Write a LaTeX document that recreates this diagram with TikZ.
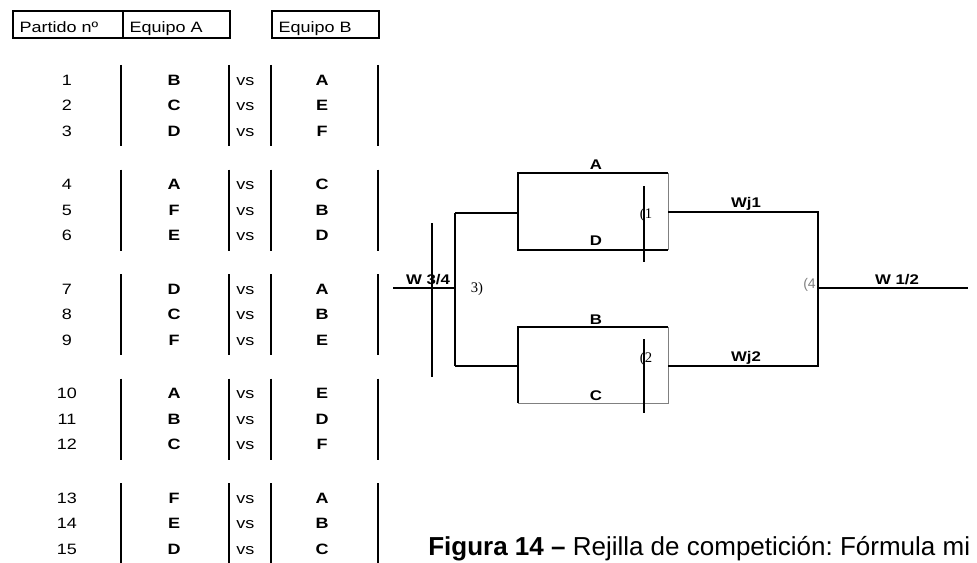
\documentclass[tikz,border=0pt]{standalone}
\usepackage{fontspec}
\setmainfont{Liberation Sans}
\newfontfamily\tabfont[FakeStretch=1.2]{Liberation Sans}
\newfontfamily\serfont{Liberation Serif}
\frenchspacing

\begin{document}
\begin{tikzpicture}[x=0.75pt,y=-0.75pt,
    cell/.style={font=\tabfont\fontsize{11.25}{13}\selectfont,inner sep=0pt,text height=8pt,text depth=0pt},
    team/.style={cell,font=\tabfont\bfseries\fontsize{11.25}{13}\selectfont},
    hdr/.style={draw,line width=1.5pt,anchor=north west,minimum height=20.25pt,inner xsep=5pt,inner ysep=2pt,align=left,
      text height=12pt,text depth=0pt,font=\tabfont\fontsize{11.25}{13}\selectfont},
    bar/.style={line width=2.2pt},
    wire/.style={line width=1.5pt},
    thin/.style={line width=0.75pt,gray},
    lab/.style={font=\tabfont\bfseries\fontsize{10.5}{12}\selectfont,inner sep=0pt,text height=7.5pt,text depth=0pt},
    tag/.style={font=\serfont\fontsize{11}{12}\selectfont,inner sep=0pt,text height=7.5pt,text depth=0pt}]
     \useasboundingbox (0,0) rectangle (977,563);

     \node[hdr,text width=72.5pt] (part) at (12,10) {Partido nº};
     \node[hdr,text width=70.25pt] (eqA) at (122,10) {Equipo A};
     \node[hdr,text width=70.25pt] (eqB) at (271,10) {Equipo B};

     \foreach \a/\b [count=\i] in {B/A,C/E,D/F,A/C,F/B,E/D,D/A,C/B,F/E,A/E,B/D,C/F,F/A,E/B,D/C} {
      \pgfmathsetmacro\yy{80+104.5*int((\i-1)/3)+25.5*mod(\i-1,3)}
      \node[cell] (num\i) at (67,\yy) {\i};
      \node[team] (ta\i) at (174,\yy) {\a};
      \node[cell,anchor=west] (vs\i) at (236,\yy) {vs};
      \node[team] (tb\i) at (322,\yy) {\b};
     }
     \foreach \g in {0,...,4}
      \foreach \x in {121,229,271,378}
       \draw[bar] (\x,{65+104.5*\g}) -- (\x,{146+104.5*\g});

     \coordinate (a1) at (518,173);
     \coordinate (a2) at (668,173);
     \coordinate (a3) at (668,250);
     \coordinate (a4) at (518,250);
     \coordinate (a5) at (518,213);
     \coordinate (b1) at (518,327);
     \coordinate (b2) at (668,327);
     \coordinate (b3) at (668,403);
     \coordinate (b4) at (518,403);
     \coordinate (b5) at (518,366);
     \coordinate (l1) at (455,213);
     \coordinate (l0) at (455,288);
     \coordinate (l2) at (455,366);
     \coordinate (w34) at (393,288);
     \coordinate (r1) at (818,212);
     \coordinate (r0) at (818,288);
     \coordinate (r2) at (818,366);
     \coordinate (w12) at (968,288);

     \draw[wire] (a2) -- (a1) -- (a4) -- (a3);
     \draw[thin] (a2) -- (a3);
     \draw[wire] (b2) -- (b1) -- (b4);
     \draw[thin] (b4) -- (b3) -- (b2);
     \draw[wire] (a5) -- (l1);
     \draw[line width=1pt] (l1) -- (l2);
     \draw[wire] (l2) -- (b5);
     \draw[wire] (w34) -- (l0);
     \draw[wire] (a3 |- r1) -- (r1) -- (r2) -- (b3 |- r2);
     \draw[wire] (r0) -- (w12);
     \draw[wire] (432,223) -- (432,377);
     \draw[wire] (644,186) -- (644,262);
     \draw[wire] (644,339) -- (644,413);

     \node[lab] (labA) at (596,165) {A};
     \node[lab] (labD) at (596,240) {D};
     \node[lab] (labB) at (596,319) {B};
     \node[lab] (labC) at (596,395) {C};
     \node[lab] (wj1) at (746,202) {Wj1};
     \node[lab] (wj2) at (746,356) {Wj2};
     \node[lab] (w34l) at (428,279) {W 3/4};
     \node[lab] (w12l) at (897,279) {W 1/2};
     \node[tag] (m1) at (646,213) {(1};
     \node[tag] (m2) at (646,357) {(2};
     \node[tag] (m3) at (477,287) {3)};
     \node[tag,font=\fontsize{10.5}{12}\selectfont,text=gray,anchor=east] (m4) at (816,283) {(4};

     \node[anchor=base west,inner sep=0pt,font=\fontsize{19.5}{23}\selectfont] (cap) at (428,555)
      {\textbf{Figura 14 –} Rejilla de competición: Fórmula mi};
    \end{tikzpicture}
\end{document}
